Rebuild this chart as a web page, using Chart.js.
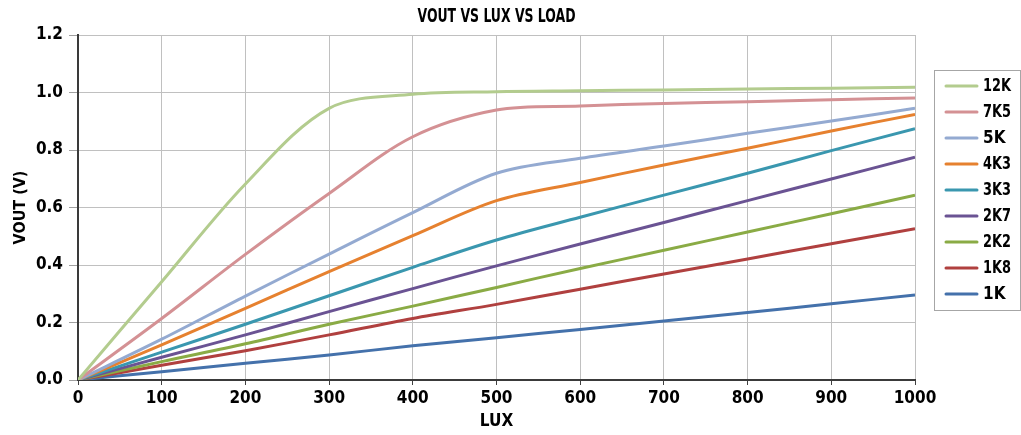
<!DOCTYPE html>
<html>
<head>
<meta charset="utf-8">
<script src="https://cdn.jsdelivr.net/npm/chart.js@4/dist/chart.umd.min.js"></script>
<style>
  html, body { margin: 0; padding: 0; background: #fff; }
  #wrap { width: 1021px; height: 435px; }
</style>
</head>
<body>
<div id="wrap"><canvas id="c" width="1021" height="435"></canvas></div>
<script>
const FONT = "'Liberation Sans Narrow', 'DejaVu Sans Condensed', 'Arial Narrow', sans-serif";
const chartTitle = 'VOUT VS LUX VS LOAD';
const xTitle = 'LUX';
const yTitle = 'VOUT (V)';

const lux = [0, 100, 200, 300, 400, 500, 600, 700, 800, 900, 1000];
const seriesNames = ['12K', '7K5', '5K', '4K3', '3K3', '2K7', '2K2', '1K8', '1K'];
const seriesColors = ['#b3cc8e', '#d49194', '#94aad1', '#e6812f', '#3a97af', '#6a5393', '#8aab45', '#b0403f', '#4471ab'];

const v12K = [0, 0.342, 0.682, 0.945, 0.994, 1.003, 1.006, 1.009, 1.012, 1.015, 1.018];
const v7K5 = [0, 0.214, 0.437, 0.649, 0.846, 0.939, 0.953, 0.962, 0.968, 0.975, 0.981];
const v5K  = [0, 0.142, 0.292, 0.438, 0.582, 0.719, 0.771, 0.814, 0.858, 0.901, 0.945];
const v4K3 = [0, 0.122, 0.249, 0.377, 0.502, 0.624, 0.687, 0.748, 0.806, 0.866, 0.924];
const v3K3 = [0, 0.097, 0.194, 0.293, 0.392, 0.487, 0.566, 0.643, 0.719, 0.798, 0.874];
const v2K7 = [0, 0.079, 0.157, 0.238, 0.318, 0.397, 0.473, 0.548, 0.624, 0.699, 0.775];
const v2K2 = [0, 0.064, 0.126, 0.194, 0.257, 0.322, 0.388, 0.451, 0.515, 0.578, 0.643];
const v1K8 = [0, 0.051, 0.102, 0.157, 0.214, 0.263, 0.316, 0.369, 0.421, 0.474, 0.526];
const v1K  = [0, 0.029, 0.058, 0.087, 0.119, 0.147, 0.176, 0.205, 0.235, 0.265, 0.296];

const seriesValues = [v12K, v7K5, v5K, v4K3, v3K3, v2K7, v2K2, v1K8, v1K];

const datasets = seriesNames.map((name, i) => ({
  label: name,
  data: lux.map((x, j) => ({ x: x, y: seriesValues[i][j] })),
  borderColor: seriesColors[i],
  backgroundColor: seriesColors[i],
  borderWidth: 3,
  pointRadius: 0,
  tension: 0.33,
  fill: false
}));

function condensedText(ctx, text, x, y, maxW) {
  const w = ctx.measureText(text).width;
  const s = Math.min(1, maxW / w);
  ctx.save();
  ctx.translate(x, y);
  ctx.scale(s, 1);
  ctx.fillText(text, 0, 0);
  ctx.restore();
}

const customDecor = {
  id: 'customDecor',
  afterDraw(chart) {
    const ctx = chart.ctx;
    const area = chart.chartArea;
    ctx.save();
    // title
    ctx.fillStyle = '#000';
    ctx.font = 'bold 20px ' + FONT;
    ctx.textAlign = 'center';
    ctx.textBaseline = 'middle';
    condensedText(ctx, chartTitle, (area.left + area.right) / 2, 17, 158);
    // legend box
    ctx.strokeStyle = '#a6a6a6';
    ctx.lineWidth = 1;
    ctx.strokeRect(934.5, 70.5, 86, 240);
    ctx.font = 'bold 17px ' + FONT;
    ctx.textAlign = 'left';
    chart.data.datasets.forEach((ds, i) => {
      const y = 86 + 26 * i;
      ctx.strokeStyle = ds.borderColor;
      ctx.lineWidth = 3;
      ctx.lineCap = 'round';
      ctx.beginPath();
      ctx.moveTo(946, y);
      ctx.lineTo(977, y);
      ctx.stroke();
      ctx.fillStyle = '#000';
      condensedText(ctx, ds.label, 983, y + 1, 28);
    });
    ctx.restore();
  }
};

new Chart(document.getElementById('c'), {
  type: 'line',
  data: { datasets: datasets },
  options: {
    responsive: false,
    animation: false,
    layout: { padding: { left: 0, right: 106, top: 35, bottom: 0 } },
    plugins: { legend: { display: false }, tooltip: { enabled: false }, title: { display: false } },
    scales: {
      x: {
        type: 'linear',
        min: 0, max: 1000,
        afterFit: s => { s.height = 55; },
        ticks: { stepSize: 100, color: '#000', padding: 3, maxRotation: 0,
                 callback: v => String(v),
                 font: { family: FONT, size: 17, weight: 'bold' } },
        grid: { color: '#c0c0c0', lineWidth: 1, tickLength: 5, tickColor: '#404040' },
        border: { color: '#3a3a3a', width: 2 },
        title: { display: true, text: xTitle, color: '#000', padding: { top: 0, bottom: 3 },
                 font: { family: FONT, size: 17, weight: 'bold' } }
      },
      y: {
        type: 'linear',
        min: 0, max: 1.2,
        afterFit: s => { s.width = 78; },
        ticks: { stepSize: 0.2, color: '#000', padding: 6,
                 callback: v => Number(v).toFixed(1),
                 font: { family: FONT, size: 17, weight: 'bold' } },
        grid: { color: '#c0c0c0', lineWidth: 1, tickLength: 9, tickColor: '#a0a0a0' },
        border: { color: '#3a3a3a', width: 2 },
        title: { display: true, text: yTitle, color: '#000', padding: { top: 11, bottom: 0 },
                 font: { family: FONT, size: 16, weight: 'bold' } }
      }
    }
  },
  plugins: [customDecor]
});
</script>
</body>
</html>
